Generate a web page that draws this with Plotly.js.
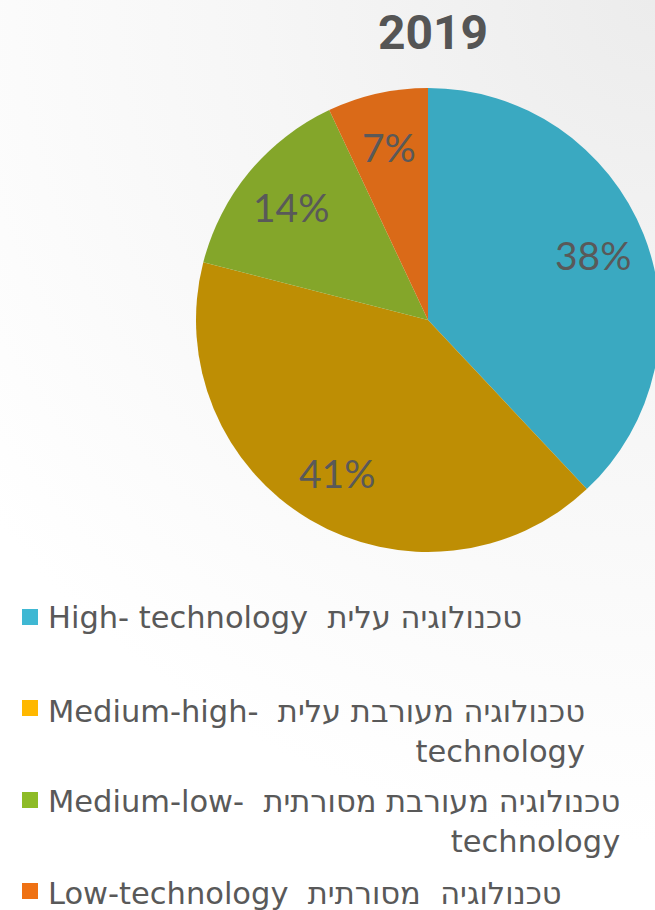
<!DOCTYPE html>
<html>
<head>
<meta charset="utf-8">
<script src="https://cdn.plot.ly/plotly-3.0.1.min.js"></script>
<style>
  html, body { margin: 0; padding: 0; width: 655px; height: 910px; overflow: hidden;
    background: radial-gradient(circle at 100% 0%, #ececec 0%, #f6f6f6 35%, #ffffff 75%); }
  #chart { width: 700px; height: 910px; }
</style>
</head>
<body>
<div id="chart"></div>
<script>
const chartTitle = "2019";
const categories = ["High- technology", "Medium-high- technology", "Medium-low- technology", "Low-technology"];
const legendLabels = [
  "High- technology  טכנולוגיה עלית",
  "Medium-high-  טכנולוגיה מעורבת עלית<br>technology",
  "Medium-low-  טכנולוגיה מעורבת מסורתית<br>technology",
  "Low-technology  טכנולוגיה  מסורתית"
];
const shares = [38, 41, 14, 7];
const sliceColors = ["#3AA9C1", "#BE8E04", "#84A62A", "#DA6A18"];
const swatchColors = ["#3FB8D3", "#FFB800", "#8EBB26", "#EF7113"];

const W = 700, H = 910;
const px = x => x / W;
const py = y => 1 - y / H;

// pie geometry (pixels)
const pieLeft = 196, pieRight = 660, pieTop = 88, pieBottom = 552;
const cx = (pieLeft + pieRight) / 2, cy = (pieTop + pieBottom) / 2, R = (pieRight - pieLeft) / 2;
const labelRadius = 0.765;

const rowCenters = [617, 731, 821, 893];
const swatchCenters = [617, 708, 800, 891];

const total = shares.reduce((a, b) => a + b, 0);
let cum = 0;
const pctAnnotations = shares.map(v => {
  const m = (cum + v / 2) / total; cum += v;
  const th = 2 * Math.PI * m;
  return {
    text: Math.round(100 * v / total) + "%", xref: "paper", yref: "paper",
    x: px(cx + labelRadius * R * Math.sin(th)), y: py(cy - labelRadius * R * Math.cos(th)),
    xanchor: "center", yanchor: "middle", showarrow: false,
    font: { family: "Lato, sans-serif", size: 39, color: "#595959" }
  };
});

const legendAnnotations = legendLabels.map((t, i) => ({
  text: t, xref: "paper", yref: "paper", x: px(46), y: py(rowCenters[i]),
  xanchor: "left", yanchor: "middle", align: "right", showarrow: false,
  font: { family: "DejaVu Sans, sans-serif", size: 30.5, color: "#595959" }
}));
const shapes = swatchColors.map((c, i) => ({
  type: "rect", xref: "paper", yref: "paper",
  x0: px(22), x1: px(38), y0: py(swatchCenters[i] - 8), y1: py(swatchCenters[i] + 8),
  fillcolor: c, line: { width: 0 }
}));

const data = [{
  type: "pie",
  labels: categories,
  values: shares,
  sort: false,
  direction: "clockwise",
  rotation: 0,
  marker: { colors: sliceColors, line: { width: 0 } },
  textinfo: "none",
  hoverinfo: "label+percent",
  domain: { x: [pieLeft / W, pieRight / W], y: [py(pieBottom), py(pieTop)] },
  showlegend: false
}];

const layout = {
  width: W, height: H,
  margin: { l: 0, r: 0, t: 0, b: 0 },
  paper_bgcolor: "rgba(0,0,0,0)",
  plot_bgcolor: "rgba(0,0,0,0)",
  title: { text: "<b>" + chartTitle + "</b>", x: px(433), xanchor: "center", y: py(32), yanchor: "middle",
           font: { family: "Roboto, sans-serif", size: 48, color: "#555555" } },
  showlegend: false,
  annotations: pctAnnotations.concat(legendAnnotations),
  shapes: shapes
};

Plotly.newPlot("chart", data, layout, { displayModeBar: false, staticPlot: true });
</script>
</body>
</html>
